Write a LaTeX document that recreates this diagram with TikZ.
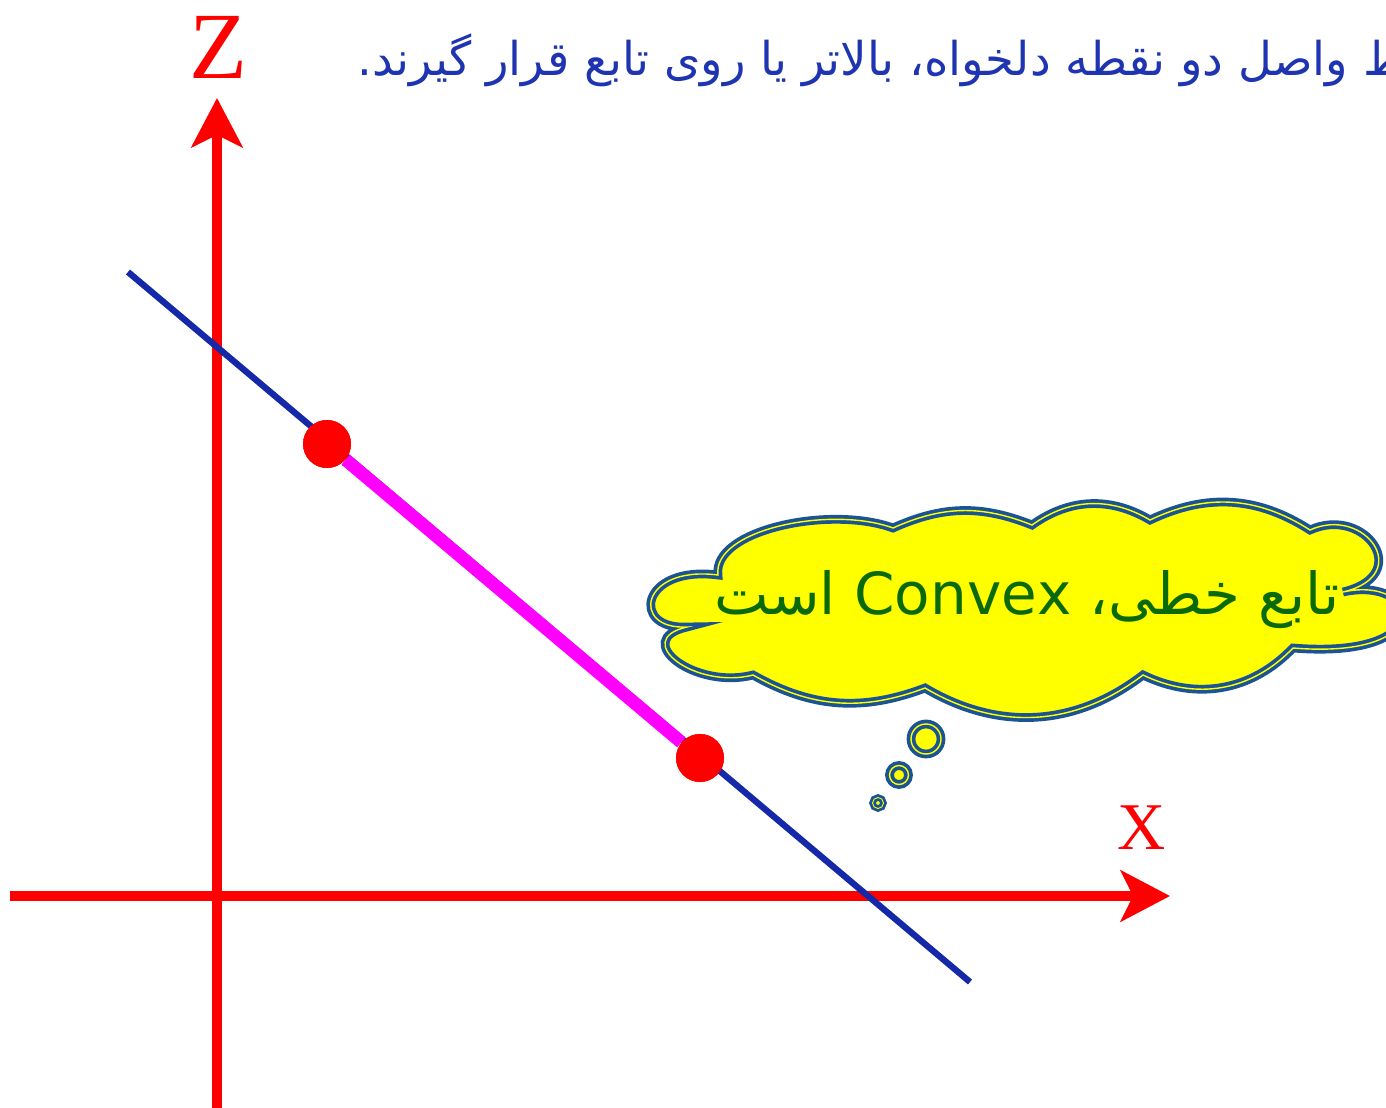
\documentclass[tikz,border=0pt]{standalone}
\usepackage{fontspec}
\usepackage{tikz}
\usetikzlibrary{arrows.meta}
\TeXXeTstate=1
\newfontfamily\arabicfont[Script=Arabic]{DejaVu Sans}
\newfontfamily\axisfont{Liberation Serif}
\definecolor{axisred}{HTML}{FF0000}
\definecolor{lineblue}{HTML}{1428A8}
\definecolor{segpink}{HTML}{FF00FF}
\definecolor{cloudblue}{HTML}{1B5494}
\definecolor{cloudfill}{HTML}{FFFF00}
\definecolor{textgreen}{HTML}{0A6A0A}
\definecolor{titleblue}{HTML}{1E34B0}

\begin{document}
\begin{tikzpicture}[x=0.02cm, y=-0.02cm,
  axis/.style={axisred, line width=5.7pt, -{Stealth[length=28pt, width=29pt, inset=7pt]}},
  thought/.style={draw=cloudblue, fill=cloudfill, double=cloudfill, double distance=0.8pt, line width=2.1pt},
  dot/.style={circle, fill=axisred, inner sep=0pt, minimum size=0.96cm}]
  \useasboundingbox (0,0) rectangle (1386,1108);

  % Axes
  \coordinate (xstart) at (10,896);
  \coordinate (xend) at (1170,896);
  \coordinate (zstart) at (217,1120);
  \coordinate (zend) at (217,98);
  \draw[axis] (xstart) -- (xend);
  \draw[axis] (zstart) -- (zend);
  \node[text=axisred, font=\axisfont\fontsize{54}{54}\selectfont] (zlabel) at (218,47) {Z};
  \node[text=axisred, font=\axisfont\fontsize{38}{38}\selectfont] (xlabel) at (1142,828) {X};

  % Linear function and two chosen points
  \coordinate (lineA) at (128,272);
  \coordinate (lineB) at (970,982);
  \draw[lineblue, line width=3.6pt] (lineA) -- (lineB);
  \node[dot] (p1) at (327,444) {};
  \node[dot] (p2) at (700,758) {};
  \draw[segpink, line width=7.4pt] (p1) -- (p2);
  \node[dot] at (p1) {};
  \node[dot] at (p2) {};

  % Title (runs off the right edge)
  \node[anchor=base west, inner sep=0pt, text=titleblue, font=\arabicfont\fontsize{26.5}{26.5}\selectfont] (title) at (357,76)
    {\beginR خط واصل دو نقطه دلخواه، بالاتر یا روی تابع قرار گیرند.\endR};

  % Thought cloud (puffs between junction points, clockwise)
  \draw[thought] (718,575) .. controls (712,530) and (830,505) .. (893,528)
    to[bend left=23] (1032,525) to[bend left=33] (1150,520) to[bend left=29] (1310,530)
    .. controls (1365,505) and (1415,575) .. (1343,592)
    .. controls (1420,575) and (1440,660) .. (1293,648)
    to[bend left=36] (1143,675) to[bend left=34] (925,688) to[bend left=25] (753,675)
    .. controls (695,690) and (630,640) .. (687,627)
    .. controls (630,630) and (640,565) .. cycle;
  \node[anchor=base, text=textgreen, font=\arabicfont\fontsize{33}{33}\selectfont] (cloudtext) at (1027,614)
    {\beginR تابع خطی، \beginL Convex\endL{} است\endR};
  \node[thought, circle, inner sep=0pt, minimum size=0.60cm] (bub1) at (926,739) {};
  \node[thought, circle, inner sep=0pt, minimum size=0.38cm] (bub2) at (899,775) {};
  \node[thought, circle, inner sep=0pt, minimum size=0.22cm, line width=1.6pt, double distance=0.5pt] (bub3) at (878,803) {};
\end{tikzpicture}
\end{document}
